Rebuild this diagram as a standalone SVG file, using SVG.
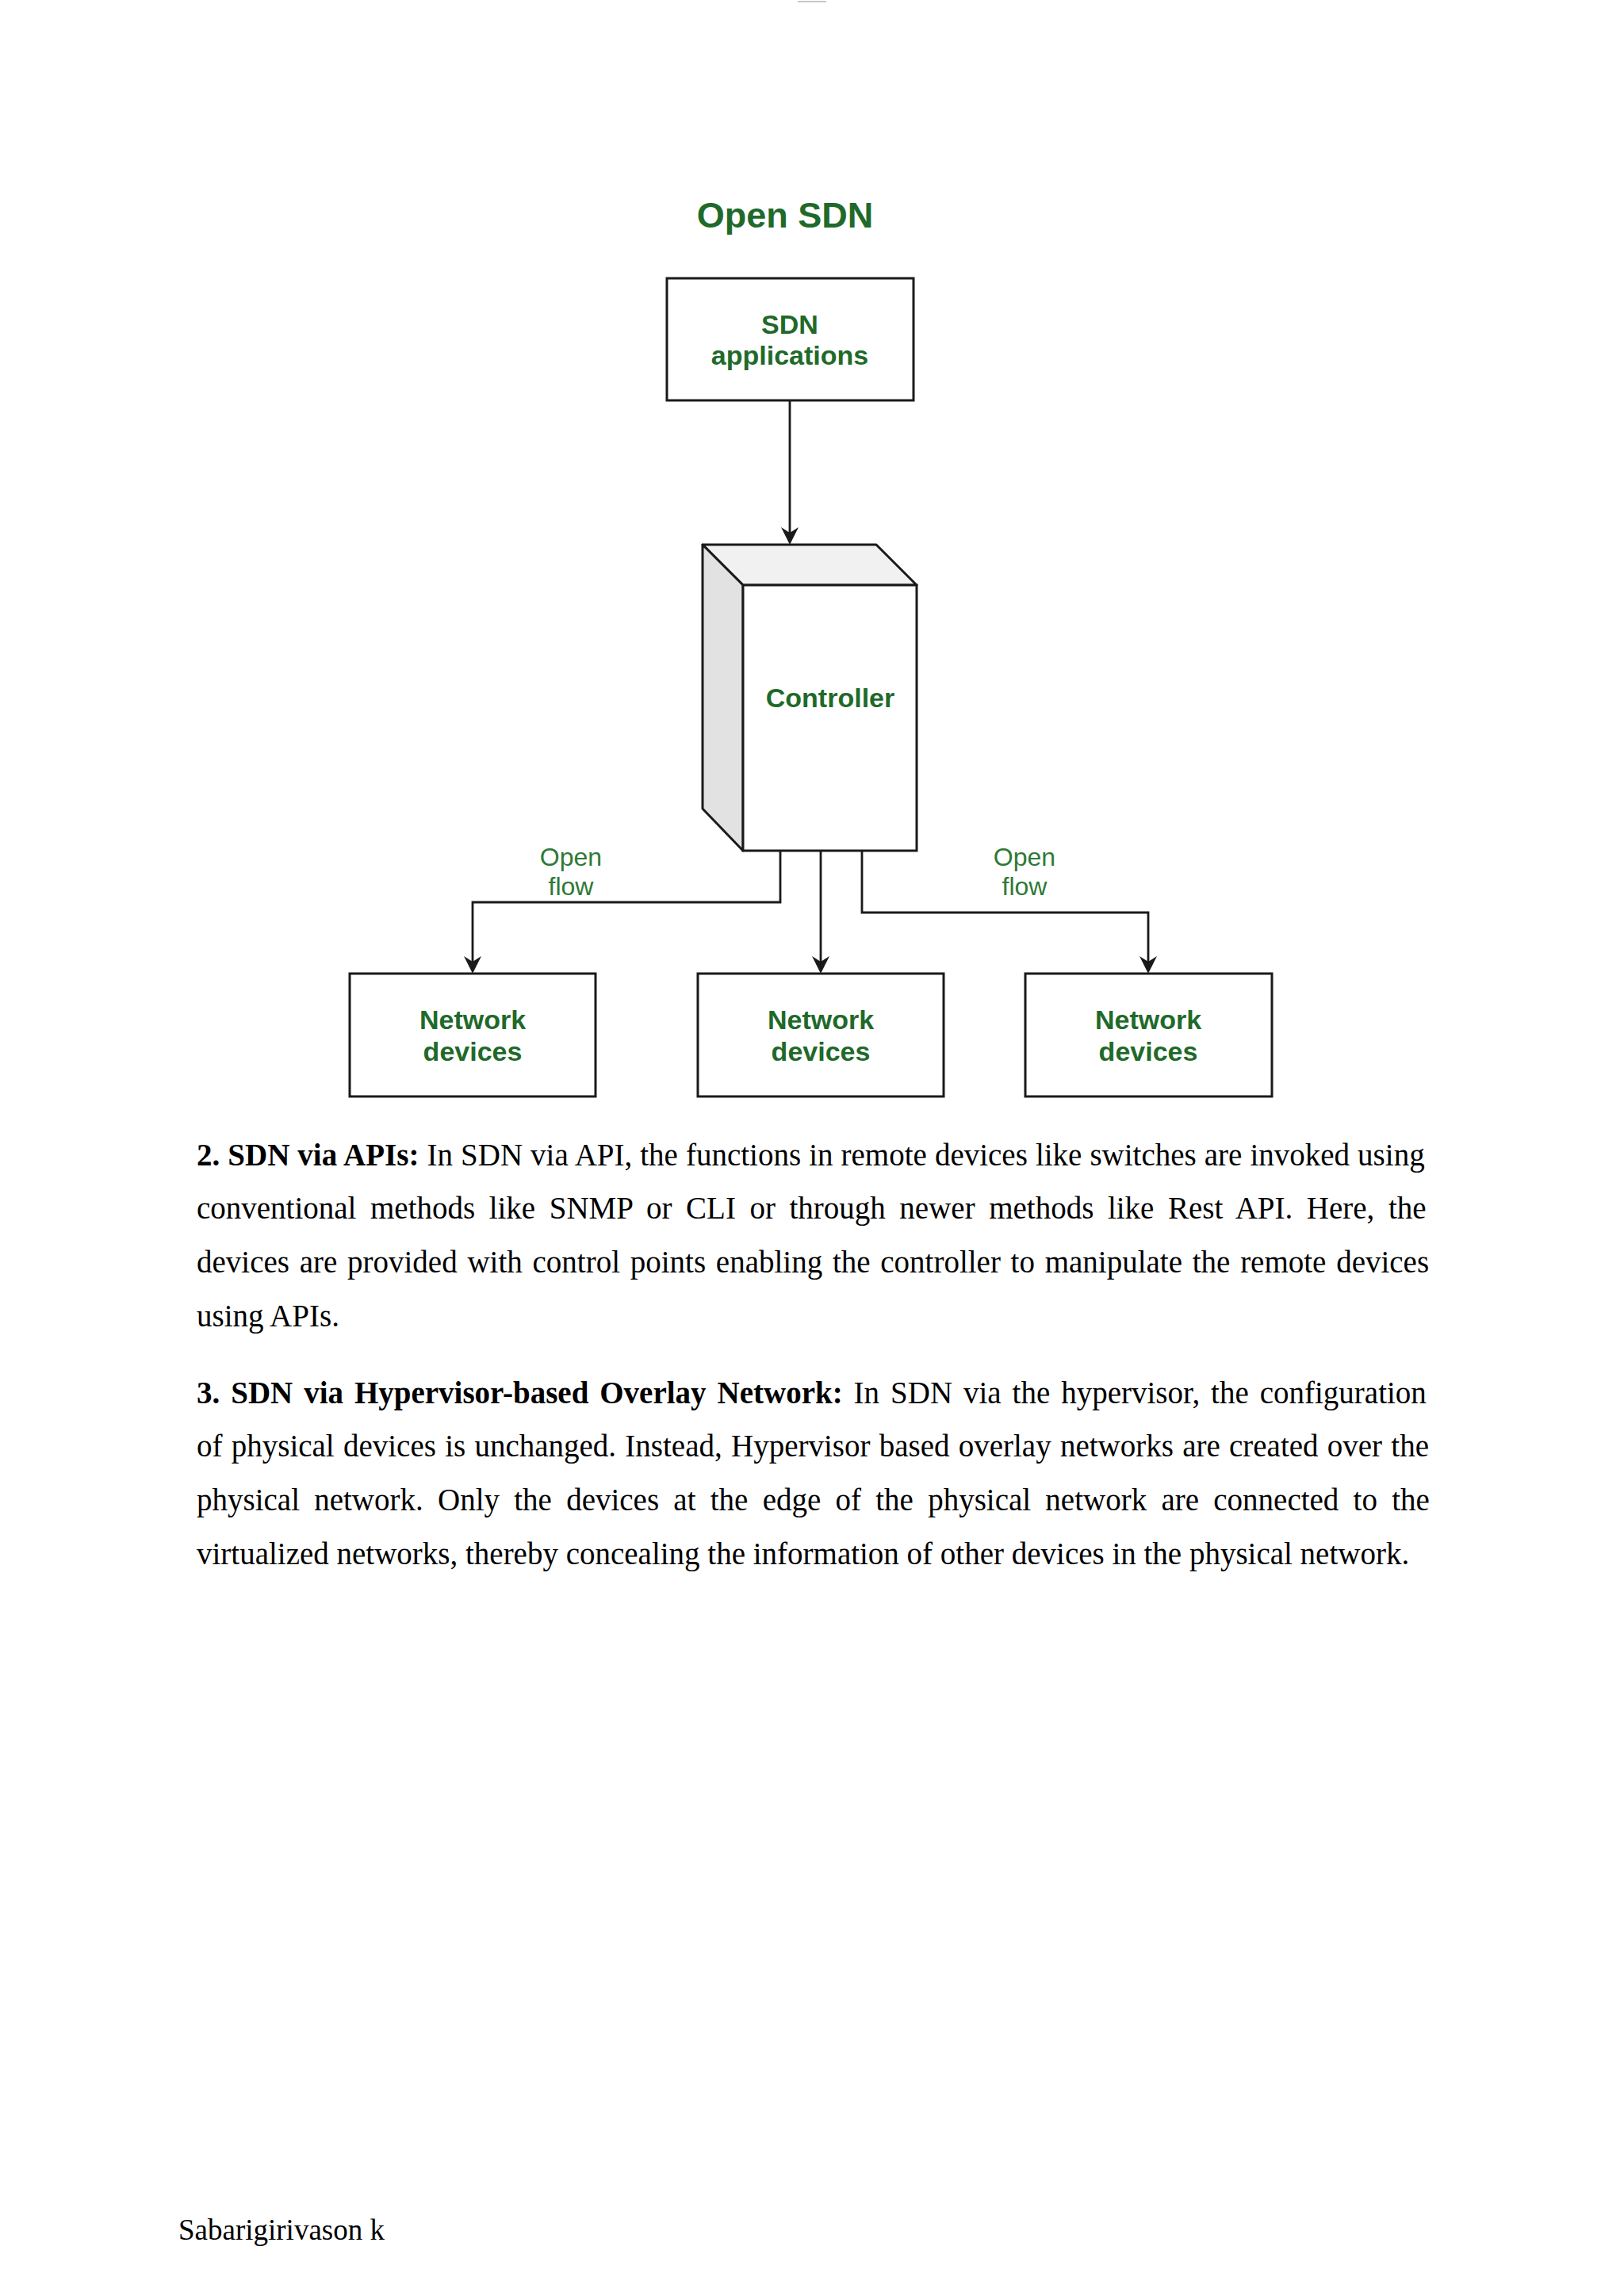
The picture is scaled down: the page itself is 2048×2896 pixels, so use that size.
<svg xmlns="http://www.w3.org/2000/svg" xmlns:xlink="http://www.w3.org/1999/xlink" width="2048" height="2896" viewBox="0 0 2048 2896">
<defs>
<style>
.box{fill:#ffffff;stroke:#1a1a1a;stroke-width:3}
.lbl{font-family:"Liberation Sans",Arial,sans-serif;font-weight:bold;font-size:34px;fill:#1f6a2a;text-anchor:middle}
.flow{font-family:"Liberation Sans",Arial,sans-serif;font-size:32px;fill:#2e7a36;text-anchor:middle}
.conn{fill:none;stroke:#1a1a1a;stroke-width:2.8}
.body{font-family:"Liberation Serif","Times New Roman",serif;font-size:39px;fill:#000}
.b{font-weight:bold}
</style>
<path id="ah" d="M0,0 L-11,-22 L0,-15 L11,-22 z" fill="#1a1a1a"/>
</defs>
<rect x="0" y="0" width="2048" height="2896" fill="#ffffff"/>
<rect x="1006" y="1" width="36" height="2" fill="#c8c8c8"/>

<g id="title">
<text x="990" y="287" style="font-family:'Liberation Sans',Arial,sans-serif;font-weight:bold;font-size:45px;fill:#1f6a2a;text-anchor:middle">Open SDN</text>
</g>

<g id="sdn-applications">
<rect class="box" x="841" y="351" width="311" height="154"/>
<text class="lbl" x="996" y="421">SDN</text>
<text class="lbl" x="996" y="460">applications</text>
</g>

<g id="controller">
<polygon points="886,687 1105,687 1156,738 937,738" fill="#f1f1f1" stroke="#1a1a1a" stroke-width="3" stroke-linejoin="round"/>
<polygon points="886,687 937,738 937,1073 886,1020" fill="#e2e2e2" stroke="#1a1a1a" stroke-width="3" stroke-linejoin="round"/>
<rect class="box" x="937" y="738" width="219" height="335"/>
<text class="lbl" x="1047" y="892">Controller</text>
</g>

<g id="network-devices-1">
<rect class="box" x="441" y="1228" width="310" height="155"/>
<text class="lbl" x="596" y="1298">Network</text>
<text class="lbl" x="596" y="1338">devices</text>
</g>
<g id="network-devices-2">
<rect class="box" x="880" y="1228" width="310" height="155"/>
<text class="lbl" x="1035" y="1298">Network</text>
<text class="lbl" x="1035" y="1338">devices</text>
</g>
<g id="network-devices-3">
<rect class="box" x="1293" y="1228" width="311" height="155"/>
<text class="lbl" x="1448" y="1298">Network</text>
<text class="lbl" x="1448" y="1338">devices</text>
</g>

<g id="connectors">
<path class="conn" d="M996,505 L996,675"/>
<use xlink:href="#ah" href="#ah" x="996" y="687"/>
<path class="conn" d="M984,1073 L984,1138 L596,1138 L596,1216"/>
<use xlink:href="#ah" href="#ah" x="596" y="1228"/>
<path class="conn" d="M1035,1073 L1035,1216"/>
<use xlink:href="#ah" href="#ah" x="1035" y="1228"/>
<path class="conn" d="M1087,1073 L1087,1151 L1448,1151 L1448,1216"/>
<use xlink:href="#ah" href="#ah" x="1448" y="1228"/>
<text class="flow" x="720" y="1092">Open</text>
<text class="flow" x="720" y="1129">flow</text>
<text class="flow" x="1292" y="1092">Open</text>
<text class="flow" x="1292" y="1129">flow</text>
</g>

<g id="body-text" class="body">
<text x="248" y="1470" style="word-spacing:0.3px"><tspan class="b">2. SDN via APIs:</tspan> In SDN via API, the functions in remote devices like switches are invoked using</text>
<text x="248" y="1537" style="word-spacing:7.8px">conventional methods like SNMP or CLI or through newer methods like Rest API. Here, the</text>
<text x="248" y="1605" style="word-spacing:3px">devices are provided with control points enabling the controller to manipulate the remote devices</text>
<text x="248" y="1673">using APIs.</text>
<text x="248" y="1770" style="word-spacing:4.2px"><tspan class="b">3. SDN via Hypervisor-based Overlay Network:</tspan> In SDN via the hypervisor, the configuration</text>
<text x="248" y="1837" style="word-spacing:1.5px">of physical devices is unchanged. Instead, Hypervisor based overlay networks are created over the</text>
<text x="248" y="1905" style="word-spacing:8.5px">physical network. Only the devices at the edge of the physical network are connected to the</text>
<text x="248" y="1973">virtualized networks, thereby concealing the information of other devices in the physical network.</text>
</g>

<g id="footer">
<text x="225" y="2825" style="font-family:'Liberation Serif','Times New Roman',serif;font-size:37px;fill:#000">Sabarigirivason k</text>
</g>
</svg>
